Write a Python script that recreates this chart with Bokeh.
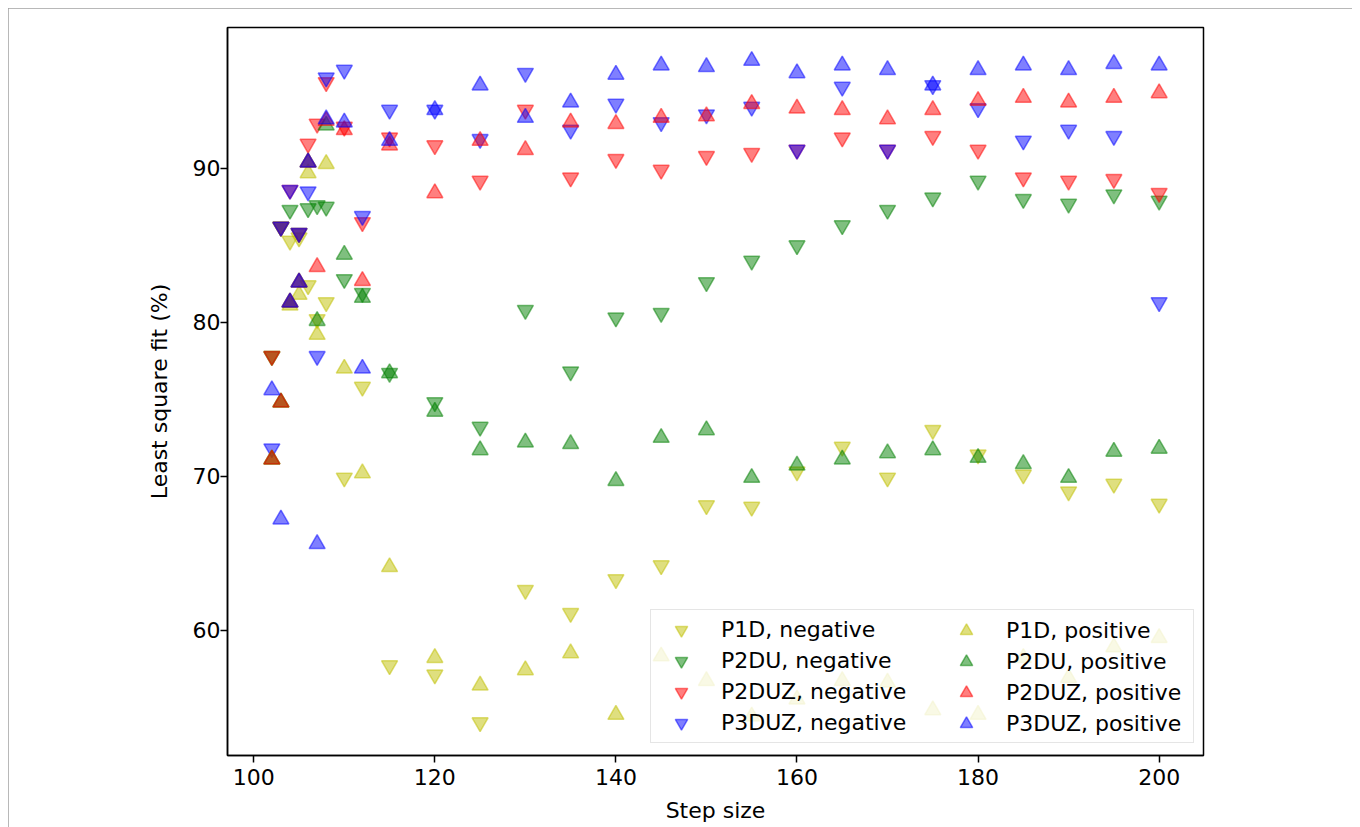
from bokeh.plotting import figure
from bokeh.models import Range1d, FixedTicker, Legend, LegendItem
from bokeh.embed import file_html
from bokeh.resources import INLINE

step = [102, 103, 104, 105, 106, 107, 108, 110, 112, 115, 120, 125, 130, 135, 140,
        145, 150, 155, 160, 165, 170, 175, 180, 185, 190, 195, 200]

p1d_neg = [77.8, 86.2, 85.3, 85.5, 82.4, 80.2, 81.3, 69.9, 75.8, 57.7, 57.1, 54.0, 62.6, 61.1, 63.3,
           64.2, 68.1, 68.0, 70.3, 71.9, 69.9, 73.0, 71.4, 70.1, 69.0, 69.5, 68.2]
p2du_neg = [77.8, 86.2, 87.3, 85.8, 87.4, 87.6, 87.5, 82.8, 81.9, 76.7, 74.8, 73.2, 80.8, 76.8, 80.3,
            80.6, 82.6, 84.0, 85.0, 86.3, 87.3, 88.1, 89.2, 88.0, 87.7, 88.3, 87.9]
p2duz_neg = [77.8, 86.2, 88.6, 85.8, 91.6, 92.9, 95.6, 92.7, 86.5, 92.0, 91.5, 89.2, 93.8, 89.4, 90.6,
             89.9, 90.8, 91.0, 91.2, 92.0, 91.2, 92.1, 91.2, 89.4, 89.2, 89.3, 88.4]
p3duz_neg = [71.8, 86.2, 88.6, 85.8, 88.5, 77.8, 95.9, 96.4, 86.9, 93.8, 93.8, 91.9, 96.2, 92.5, 94.2,
             93.0, 93.5, 94.0, 91.2, 95.3, 91.2, 95.4, 93.9, 91.8, 92.5, 92.1, 81.3]

p1d_pos = [71.1, 74.8, 81.1, 81.8, 89.7, 79.2, 90.3, 77.0, 70.2, 64.1, 58.2, 56.4, 57.4, 58.5, 54.5,
           58.3, 56.7, 54.4, 55.5, 56.7, 56.6, 54.8, 54.5, 58.2, 56.9, 58.9, 59.5]
p2du_pos = [71.1, 74.8, 81.3, 82.6, 90.4, 80.1, 92.8, 84.4, 81.6, 76.7, 74.2, 71.7, 72.2, 72.1, 69.7,
            72.5, 73.0, 69.9, 70.7, 71.1, 71.5, 71.7, 71.2, 70.8, 69.9, 71.6, 71.8]
p2duz_pos = [71.1, 74.8, 81.3, 82.6, 90.4, 83.6, 93.1, 92.5, 82.7, 91.5, 88.4, 91.8, 91.2, 93.0, 92.9,
             93.3, 93.4, 94.2, 93.9, 93.8, 93.2, 93.8, 94.4, 94.6, 94.3, 94.6, 94.9]
p3duz_pos = [75.6, 67.2, 81.3, 82.6, 90.4, 65.6, 93.2, 93.0, 77.0, 91.8, 93.8, 95.4, 93.3, 94.3, 96.1,
             96.7, 96.6, 97.0, 96.2, 96.7, 96.4, 95.4, 96.4, 96.7, 96.4, 96.8, 96.7]

x_ticks = [100, 120, 140, 160, 180, 200]
y_ticks = [60, 70, 80, 90]

neg_series = [
    ("P1D, negative", p1d_neg, "#bfbf00"),
    ("P2DU, negative", p2du_neg, "#008000"),
    ("P2DUZ, negative", p2duz_neg, "#ff0000"),
    ("P3DUZ, negative", p3duz_neg, "#0000ff"),
]
pos_series = [
    ("P1D, positive", p1d_pos, "#bfbf00"),
    ("P2DU, positive", p2du_pos, "#008000"),
    ("P2DUZ, positive", p2duz_pos, "#ff0000"),
    ("P3DUZ, positive", p3duz_pos, "#0000ff"),
]

FONT = "DejaVu Sans"
FS = "22px"

p = figure(width=1344, height=820, output_backend="svg", toolbar_location=None,
           x_range=Range1d(97.1, 204.9), y_range=Range1d(51.85, 99.16),
           min_border_left=219, min_border_right=149, min_border_top=19, min_border_bottom=73)
p.styles = {"margin": "8px 8px 0px 8px", "outline": "1px solid #a0a0a0", "outline-offset": "-1px"}

p.xgrid.visible = False
p.ygrid.visible = False
p.outline_line_color = "black"
p.outline_line_width = 1.5
p.outline_line_alpha = 1.0

for ax in (p.xaxis[0], p.yaxis[0]):
    ax.major_label_text_font = FONT
    ax.major_label_text_font_size = FS
    ax.major_label_text_color = "black"
    ax.axis_label_text_font = FONT
    ax.axis_label_text_font_size = FS
    ax.axis_label_text_font_style = "normal"
    ax.axis_label_text_color = "black"
    ax.minor_tick_line_color = None
    ax.major_tick_in = 0
    ax.major_tick_out = 7
    ax.major_tick_line_width = 1.5
    ax.major_tick_line_color = "black"
    ax.axis_line_color = "black"
    ax.axis_line_width = 1.5

p.xaxis.major_label_standoff = 6
p.yaxis.major_label_standoff = 0
p.xaxis.ticker = FixedTicker(ticks=x_ticks)
p.yaxis.ticker = FixedTicker(ticks=y_ticks)
p.xaxis.axis_label = "Step size"
p.yaxis.axis_label = "Least square fit (%)"
p.xaxis.axis_label_standoff = 10
p.yaxis.axis_label_standoff = 18

neg_items = []
for label, vals, color in neg_series:
    r = p.scatter(step, vals, marker="inverted_triangle", size=16, fill_color=color, fill_alpha=0.5,
                  line_color=color, line_alpha=0.5, line_width=1.5)
    neg_items.append(LegendItem(label=label, renderers=[r]))
pos_items = []
for label, vals, color in pos_series:
    r = p.scatter(step, vals, marker="triangle", size=16, fill_color=color, fill_alpha=0.5,
                  line_color=color, line_alpha=0.5, line_width=1.5)
    pos_items.append(LegendItem(label=label, renderers=[r]))

common = dict(label_text_font=FONT, label_text_font_size=FS, label_text_color="black",
              glyph_width=52, glyph_height=31, label_height=31, spacing=0,
              padding=4, label_standoff=14)

leg1 = Legend(items=neg_items, location=(423, 12), label_width=468,
              border_line_color="#cccccc", border_line_width=1.5,
              background_fill_color="white", background_fill_alpha=0.8, **common)
leg2 = Legend(items=pos_items, location=(713, 16), label_width=20,
              border_line_color=None, background_fill_alpha=0.0, **common)
p.add_layout(leg1)
p.add_layout(leg2)

open("out.html", "w").write(file_html(p, INLINE))
